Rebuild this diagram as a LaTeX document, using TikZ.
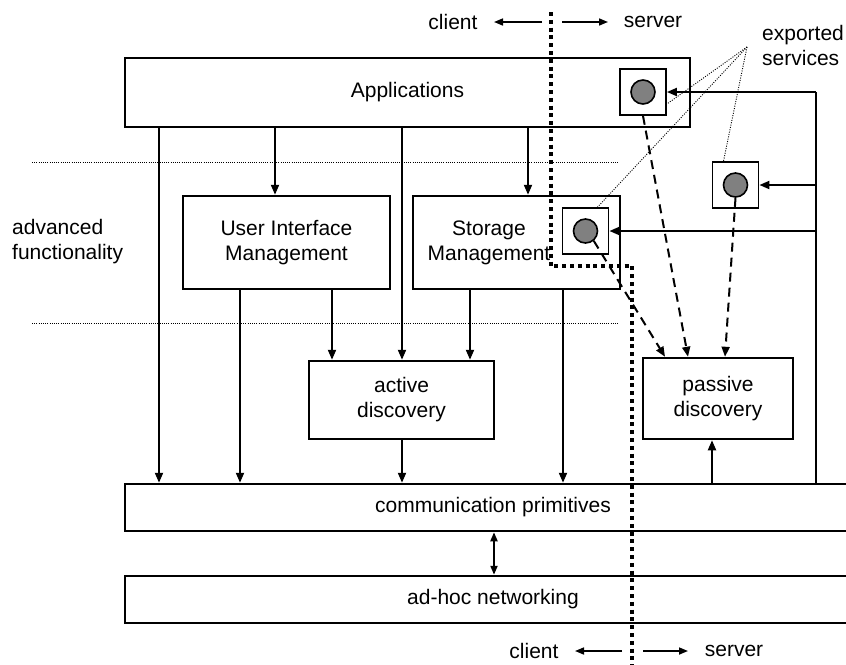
\documentclass[tikz,border=0pt]{standalone}
\usepackage{fontspec}
\setmainfont{Liberation Sans}
\usetikzlibrary{arrows.meta,calc}

\begin{document}
\begin{tikzpicture}[x=1pt,y=-1pt,font=\fontsize{21}{25}\selectfont]
\tikzset{
  box/.style={draw, line width=2.5pt, inner sep=0pt, align=center, fill=white},
  tip/.style={-{Triangle[length=10pt,width=8pt]}},
  conn/.style={line width=2pt, tip},
  dconn/.style={line width=2pt, dash pattern=on 9pt off 6pt, tip},
  thin conn/.style={line width=1.6pt, -{Triangle[length=9pt,width=7pt]}},
  layer sep/.style={line width=1pt, dash pattern=on 1pt off 1.2pt},
  divider/.style={line width=4.5pt, dash pattern=on 4pt off 3.8pt},
  pointer/.style={line width=0.9pt, dash pattern=on 1pt off 1.4pt},
  svcbox/.style={draw, line width=1.8pt, fill=white, minimum size=46pt, inner sep=0pt},
  svcdot/.style={circle, draw, line width=1.6pt, fill=black!50, minimum size=24pt, inner sep=0pt},
  lbl/.style={inner sep=0pt, align=left},
}
\clip (0,0) rectangle (846,664);
\fill[white] (0,0) rectangle (846,664);

% layer separators around the advanced functionality band
\coordinate (sepL1) at (32,162);  \coordinate (sepR1) at (618,162);
\coordinate (sepL2) at (32,323);  \coordinate (sepR2) at (618,323);
\draw[layer sep] (sepL1) -- (sepR1);
\draw[layer sep] (sepL2) -- (sepR2);

% boxes
\node[box, minimum width=565pt, minimum height=69pt] (apps) at (407.5,92.5) {Applications};
\node[box, minimum width=207pt, minimum height=93pt] (ui) at (286.5,242.5) {User Interface\\Management};
\node[box, minimum width=207pt, minimum height=93pt] (stor) at (516.5,242.5) {};
\node[lbl, align=center] (stortxt) at (489,242.5) {Storage\\Management};
\node[box, minimum width=185pt, minimum height=78pt] (active) at (401.5,400) {active\\discovery};
\node[box, minimum width=150pt, minimum height=81pt] (passive) at (718,398.5) {passive\\discovery};
\node[box, minimum width=736pt, minimum height=47pt] (comm) at (493,507.5) {communication primitives};
\node[box, minimum width=736pt, minimum height=47pt] (adhoc) at (493,599.5) {ad-hoc networking};

\node[lbl] (adv) at (12,242) [anchor=west] {advanced\\functionality};
\node[lbl] (exp) at (762,45) [anchor=west] {exported\\services};

% column positions of the vertical connectors
\coordinate (xA) at (159,0);
\coordinate (xB) at (275,0);
\coordinate (xC) at (402,0);
\coordinate (xD) at (528,0);
\coordinate (xE) at (240,0);
\coordinate (xF) at (332,0);
\coordinate (xG) at (470,0);
\coordinate (xH) at (563,0);
\coordinate (xI) at (712,0);
\coordinate (xJ) at (494,0);

\draw[conn] (apps.south -| xA) -- (comm.north -| xA);
\draw[conn] (apps.south -| xB) -- (ui.north -| xB);
\draw[conn] (apps.south -| xC) -- (active.north -| xC);
\draw[conn] (apps.south -| xD) -- (stor.north -| xD);
\draw[conn] (ui.south -| xE) -- (comm.north -| xE);
\draw[conn] (ui.south -| xF) -- (active.north -| xF);
\draw[conn] (stor.south -| xG) -- (active.north -| xG);
\draw[conn] (stor.south -| xH) -- (comm.north -| xH);
\draw[conn] (active.south -| xC) -- (comm.north -| xC);
\draw[conn] (comm.north -| xI) -- (passive.south -| xI);
\draw[line width=2pt, {Triangle[length=9pt,width=7pt]}-{Triangle[length=9pt,width=7pt]}] (comm.south -| xJ) -- (adhoc.north -| xJ);

% exported services
\node[svcbox] (s1) at (643,92) {};
\node[svcdot] (s1c) at (643,92) {};
\node[svcbox] (s2) at (735.5,185) {};
\node[svcdot] (s2c) at (735.5,185) {};
\node[svcbox] (s3) at (585.5,231) {};
\node[svcdot] (s3c) at (585.5,231) {};

% bus feeding the exported services
\coordinate (busT) at (816,92);
\draw[line width=1.6pt] (busT) -- (comm.north -| busT);
\draw[conn] (busT) -- (s1.east);
\draw[conn] (s2.east -| busT) -- (s2.east);
\draw[conn] (s3.east -| busT) -- (s3.east);

% registrations with passive discovery
\draw[dconn] (s1.south) -- ([xshift=-30pt]passive.north);
\draw[dconn] (s2c.south) -- ([xshift=7pt]passive.north);
\draw[dconn] (s3c.-50) -- ([xshift=-53pt]passive.north);

% pointers from the label
\coordinate (apex) at (747,47);
\draw[pointer] (apex) -- ([yshift=-12pt]s1.east);
\draw[pointer] (apex) -- ([xshift=-12pt]s2.north);
\draw[pointer] (apex) -- ([xshift=12pt]s3.north);

% client / server divider
\coordinate (dv1) at (551,12);
\coordinate (dv2) at (551,266);
\coordinate (dv3) at (632,266);
\coordinate (dv4) at (632,670);
\draw[divider] (dv1) -- (dv2) -- (dv3) -- (dv4);

\node (cl1) at (453,22) {client};
\node (sv1) at (653,22) {server};
\coordinate (ta1) at (542,22); \coordinate (ta2) at (494,22);
\coordinate (ta3) at (562,22); \coordinate (ta4) at (608,22);
\draw[thin conn] (ta1) -- (ta2);
\draw[thin conn] (ta3) -- (ta4);

\node (cl2) at (534,651) {client};
\node (sv2) at (734,651) {server};
\coordinate (ba1) at (622,651); \coordinate (ba2) at (575,651);
\coordinate (ba3) at (643,651); \coordinate (ba4) at (688,651);
\draw[thin conn] (ba1) -- (ba2);
\draw[thin conn] (ba3) -- (ba4);
\end{tikzpicture}
\end{document}
